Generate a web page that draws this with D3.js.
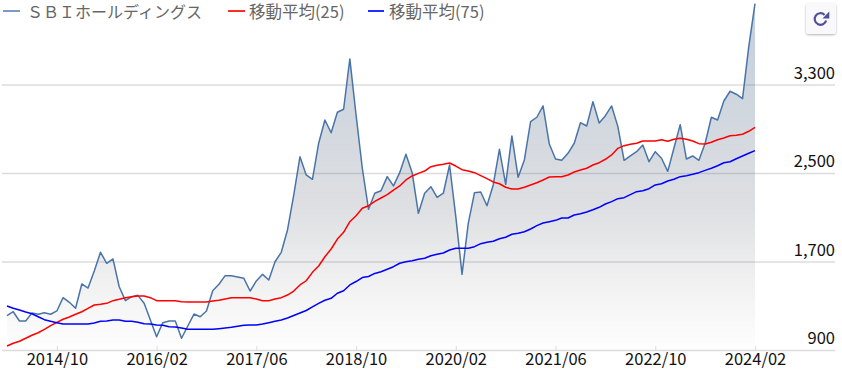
<!DOCTYPE html>
<html>
<head>
<meta charset="utf-8">
<script src="https://cdnjs.cloudflare.com/ajax/libs/d3/7.8.5/d3.min.js"></script>
<style>
  html, body { margin: 0; padding: 0; background: #fff; }
  svg { display: block; }
  svg text { font-family: "Noto Sans CJK JP", "Noto Sans", sans-serif; }
  .grid line { stroke: #dcdcdc; stroke-width: 1.5; }
  .grid .domain { display: none; }
  .grid text { font-size: 16.5px; fill: #111; text-anchor: end; }
  .xaxis .domain { display: none; }
  .xaxis line { stroke: #dcdcdc; }
  .xaxis text { font-size: 16.5px; fill: #111; }
  .legend text { font-size: 16.5px; fill: #666; }
  .legend text:first-of-type { font-size: 16px; }
</style>
</head>
<body>
<div id="chart"></div>
<script>
const tickLabels = ['2014/10', '2016/02', '2017/06', '2018/10', '2020/02', '2021/06', '2022/10', '2024/02']
const yTicks = [900, 1700, 2500, 3300]
const seriesNames = ['ＳＢＩホールディングス', '移動平均(25)', '移動平均(75)']

const price = [1210, 1246, 1162, 1162, 1234, 1223, 1237, 1223, 1253, 1373, 1331, 1277, 1497, 1460, 1614, 1783,
  1684, 1723, 1472, 1346, 1382, 1394, 1322, 1171, 1020, 1147, 1162, 1162, 1006, 1117, 1225, 1201,
  1253, 1436, 1494, 1572, 1572, 1560, 1548, 1433, 1524, 1584, 1533, 1698, 1783, 1985, 2301, 2647,
  2482, 2443, 2769, 2979, 2864, 3049, 3076, 3531, 3024, 2543, 2172, 2317, 2340, 2467, 2383, 2503,
  2669, 2503, 2136, 2317, 2376, 2280, 2317, 2572, 2105, 1584, 2045, 2322, 2328, 2204, 2392, 2714,
  2398, 2835, 2461, 2618, 2964, 3004, 3106, 2762, 2627, 2615, 2678, 2769, 2955, 2925, 3145, 2952,
  3018, 3106, 2919, 2615, 2654, 2693, 2753, 2602, 2693, 2633, 2515, 2726, 2937, 2627, 2654, 2615,
  2769, 3004, 2979, 3151, 3239, 3212, 3172, 3642, 4031]

const ma25 = [936, 961, 979, 1006, 1033, 1056, 1087, 1120, 1150, 1178, 1198, 1223, 1246, 1277, 1307, 1313,
  1322, 1346, 1358, 1373, 1382, 1388, 1388, 1373, 1346, 1346, 1346, 1346, 1337, 1334, 1334, 1334,
  1334, 1343, 1349, 1361, 1373, 1373, 1373, 1373, 1361, 1346, 1346, 1361, 1373, 1397, 1433, 1488,
  1526, 1602, 1659, 1743, 1813, 1903, 1964, 2060, 2114, 2181, 2204, 2244, 2274, 2304, 2346, 2383,
  2437, 2473, 2497, 2518, 2557, 2570, 2579, 2590, 2563, 2530, 2518, 2503, 2476, 2449, 2419, 2403,
  2371, 2355, 2355, 2371, 2392, 2412, 2437, 2464, 2467, 2467, 2482, 2509, 2527, 2543, 2572, 2593,
  2624, 2663, 2723, 2747, 2760, 2769, 2789, 2789, 2789, 2801, 2787, 2805, 2814, 2805, 2789, 2765,
  2762, 2778, 2801, 2816, 2837, 2841, 2850, 2877, 2913]

const ma75 = [1298, 1277, 1262, 1244, 1228, 1201, 1174, 1159, 1147, 1135, 1135, 1135, 1135, 1135, 1144, 1159,
  1162, 1171, 1171, 1159, 1159, 1150, 1138, 1135, 1126, 1123, 1111, 1108, 1099, 1087, 1087, 1087,
  1087, 1087, 1093, 1099, 1105, 1114, 1123, 1126, 1126, 1135, 1147, 1159, 1171, 1189, 1212, 1234,
  1257, 1289, 1322, 1350, 1367, 1413, 1436, 1488, 1519, 1555, 1564, 1592, 1608, 1630, 1653, 1684,
  1698, 1707, 1720, 1729, 1752, 1765, 1777, 1804, 1819, 1819, 1819, 1834, 1861, 1874, 1883, 1906,
  1919, 1946, 1955, 1969, 1994, 2024, 2048, 2060, 2072, 2093, 2093, 2120, 2132, 2148, 2168, 2190,
  2220, 2241, 2268, 2277, 2304, 2331, 2340, 2358, 2392, 2403, 2428, 2443, 2467, 2476, 2488, 2503,
  2524, 2543, 2566, 2593, 2602, 2629, 2654, 2678, 2702]

const W = 842
const H = 375
const fmtMonth = d3.timeFormat('%Y/%m')
const months = d3.timeMonth.range(new Date(2014, 1, 1), new Date(2024, 2, 1)).map(fmtMonth)

const svg = d3.select('#chart').append('svg')
  .attr('width', W)
  .attr('height', H)

const x = d3.scalePoint().domain(months).range([7, 755])
const y = d3.scaleLinear().domain([900, 3300]).range([350, 84.5])

const defs = svg.append('defs')
const grad = defs.append('linearGradient')
  .attr('id', 'fill')
  .attr('gradientUnits', 'userSpaceOnUse')
  .attr('x1', 0).attr('y1', 0).attr('x2', 0).attr('y2', 350)
grad.append('stop').attr('offset', 0).attr('stop-color', '#46709f').attr('stop-opacity', 0.34)
grad.append('stop').attr('offset', 0.6).attr('stop-color', '#5a6270').attr('stop-opacity', 0.2)
grad.append('stop').attr('offset', 1).attr('stop-color', '#808080').attr('stop-opacity', 0.01)

const shadow = defs.append('filter').attr('id', 'shadow')
  .attr('x', '-20%').attr('y', '-20%').attr('width', '140%').attr('height', '140%')
shadow.append('feDropShadow')
  .attr('dx', 0).attr('dy', 1).attr('stdDeviation', 1.2)
  .attr('flood-color', '#000').attr('flood-opacity', 0.3)

// grid and value labels
svg.append('g').attr('class', 'grid')
  .attr('transform', 'translate(835,0)')
  .call(d3.axisRight(y).tickValues(yTicks).tickSize(-833).tickPadding(0).tickFormat(d3.format(',')))
  .selectAll('text')
  .attr('x', 0)
  .attr('dy', 0)
  .attr('y', -6.5)

// bottom axis
svg.append('g').attr('class', 'xaxis')
  .attr('transform', 'translate(0,350)')
  .call(d3.axisBottom(x).tickValues(tickLabels).tickSize(-4).tickPadding(3))

const idx = (d, i) => x(months[i])

const area = d3.area().x(idx).y0(y(900)).y1(d => y(d))
svg.append('path').datum(price).attr('d', area).attr('fill', 'url(#fill)')

const line = d3.line().x(idx).y(d => y(d))
const addLine = (data, color, w) => svg.append('path').datum(data)
  .attr('d', line)
  .attr('fill', 'none')
  .attr('stroke', color)
  .attr('stroke-width', w)
  .attr('stroke-linejoin', 'round')

addLine(price, '#4a74a8', 1.5)
addLine(ma25, '#ff0000', 1.5)
addLine(ma75, '#0000ff', 1.5)

// legend
const legendX = [[3, 20, 27], [228, 245, 249], [368, 384, 389]]
const legendColors = ['#7b9bc4', '#ff2a2a', '#2a2aff']
const legend = svg.append('g').attr('class', 'legend')
seriesNames.forEach((name, i) => {
  legend.append('line')
    .attr('x1', legendX[i][0]).attr('x2', legendX[i][1])
    .attr('y1', 11).attr('y2', 11)
    .attr('stroke', legendColors[i]).attr('stroke-width', 2)
  legend.append('text')
    .attr('x', legendX[i][2]).attr('y', 18)
    .text(name)
})

// reload button
const btn = svg.append('g').attr('transform', 'translate(806,3)')
btn.append('rect')
  .attr('width', 30).attr('height', 31).attr('rx', 3)
  .attr('fill', '#f9f9fc')
  .attr('filter', 'url(#shadow)')
const arc = d3.path()
arc.arc(14.5, 16, 5.8, 0.25, 5.5)
btn.append('path').attr('d', arc.toString())
  .attr('fill', 'none').attr('stroke', '#50509a').attr('stroke-width', 2.2)
btn.append('path').attr('d', 'M23.3,8.5 L23.3,15.5 L16.5,15.5 Z').attr('fill', '#50509a')
</script>
</body>
</html>
